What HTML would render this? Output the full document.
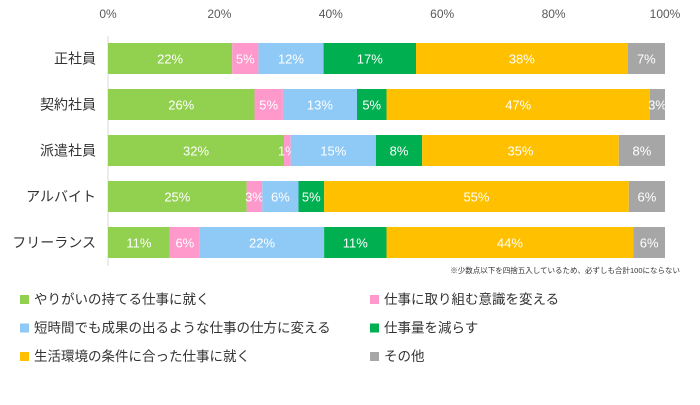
<!DOCTYPE html>
<html><head><meta charset="utf-8"><style>
body{margin:0;background:#fff;}
svg text{font-family:"Liberation Sans","Noto Sans CJK JP",sans-serif;}
</style></head><body>
<svg id="chart" width="700" height="400" xmlns="http://www.w3.org/2000/svg">
<g id="axis"></g>
<g id="bars"></g>
<g id="cats"></g>
<text x="680" y="273" font-size="7.5" fill="#333" text-anchor="end">※少数点以下を四捨五入しているため、必ずしも合計100にならない</text>
<g id="legend"></g>
</svg>
<script>
const categories=["正社員","契約社員","派遣社員","アルバイト","フリーランス"];
const seriesNames=["やりがいの持てる仕事に就く","仕事に取り組む意識を変える","短時間でも成果の出るような仕事の仕方に変える","仕事量を減らす","生活環境の条件に合った仕事に就く","その他"];
const s1=[22.3,26.3,31.6,24.9,11.1];
const s2=[4.7,5.1,1.2,2.8,5.4];
const s3=[11.7,13.3,15.3,6.5,22.3];
const s4=[16.6,5.3,8.3,4.6,11.2];
const s5=[38.0,47.3,35.3,54.7,44.3];
const s6=[6.7,2.7,8.3,6.5,5.7];
const l1=["22%","26%","32%","25%","11%"];
const l2=["5%","5%","1%","3%","6%"];
const l3=["12%","13%","15%","6%","22%"];
const l4=["17%","5%","8%","5%","11%"];
const l5=["38%","47%","35%","55%","44%"];
const l6=["7%","3%","8%","6%","6%"];
const ticks=[0,20,40,60,80,100];
const colors=["#92d050","#ff99cc","#8fcaf7","#00b050","#ffc000","#a6a6a6"];
const NS="http://www.w3.org/2000/svg";
const X0=108,X1=665,Y0=43,STEP=46,BH=31;
const xs=v=>X0+(X1-X0)*v/100;
const yc=i=>Y0+STEP*i;
function mk(t,a){const e=document.createElementNS(NS,t);for(const k in a)e.setAttribute(k,a[k]);return e;}
const axis=document.getElementById('axis');
ticks.forEach(t=>{const e=mk('text',{x:xs(t),y:18,'font-size':12,fill:'#595959','text-anchor':'middle'});e.textContent=t+'%';


axis.appendChild(e);});
const ax=mk('line',{x1:X0,x2:X0,y1:36,y2:266,stroke:'#d9d9d9','stroke-width':1});


axis.appendChild(ax);
const series=[s1,s2,s3,s4,s5,s6],labels=[l1,l2,l3,l4,l5,l6];
const bars=document.getElementById('bars'),cats=document.getElementById('cats');
categories.forEach((c,i)=>{
 let acc=0;const y=yc(i);
 series.forEach((s,j)=>{
  const v=s[i];const x=xs(acc),w=xs(acc+v)-x;
  const r=mk('rect',{x:x,y:y,width:w,height:BH,fill:colors[j]});
  
  
  bars.appendChild(r);
  const t=mk('text',{x:x+w/2,y:y+BH/2+5,'font-size':13,fill:'#fff','text-anchor':'middle'});
  t.textContent=labels[j][i];
  
  
  bars.appendChild(t);
  acc+=v;
 });
 const ct=mk('text',{x:96,y:y+BH/2+5,'font-size':14,fill:'#333','text-anchor':'end'});
 ct.textContent=c;
 
 
 cats.appendChild(ct);
});
const leg=document.getElementById('legend');
seriesNames.forEach((n,j)=>{
 const col=j%2,row=Math.floor(j/2);
 const x=col?370:20,y=300+row*28.5;
 const g=mk('g',{});
 
 
 g.appendChild(mk('rect',{x:x,y:y-5,width:9,height:9,fill:colors[j]}));
 const t=mk('text',{x:x+14,y:y+4,'font-size':13.5,fill:'#333'});t.textContent=n;g.appendChild(t);
 leg.appendChild(g);
});
</script>
</body></html>
